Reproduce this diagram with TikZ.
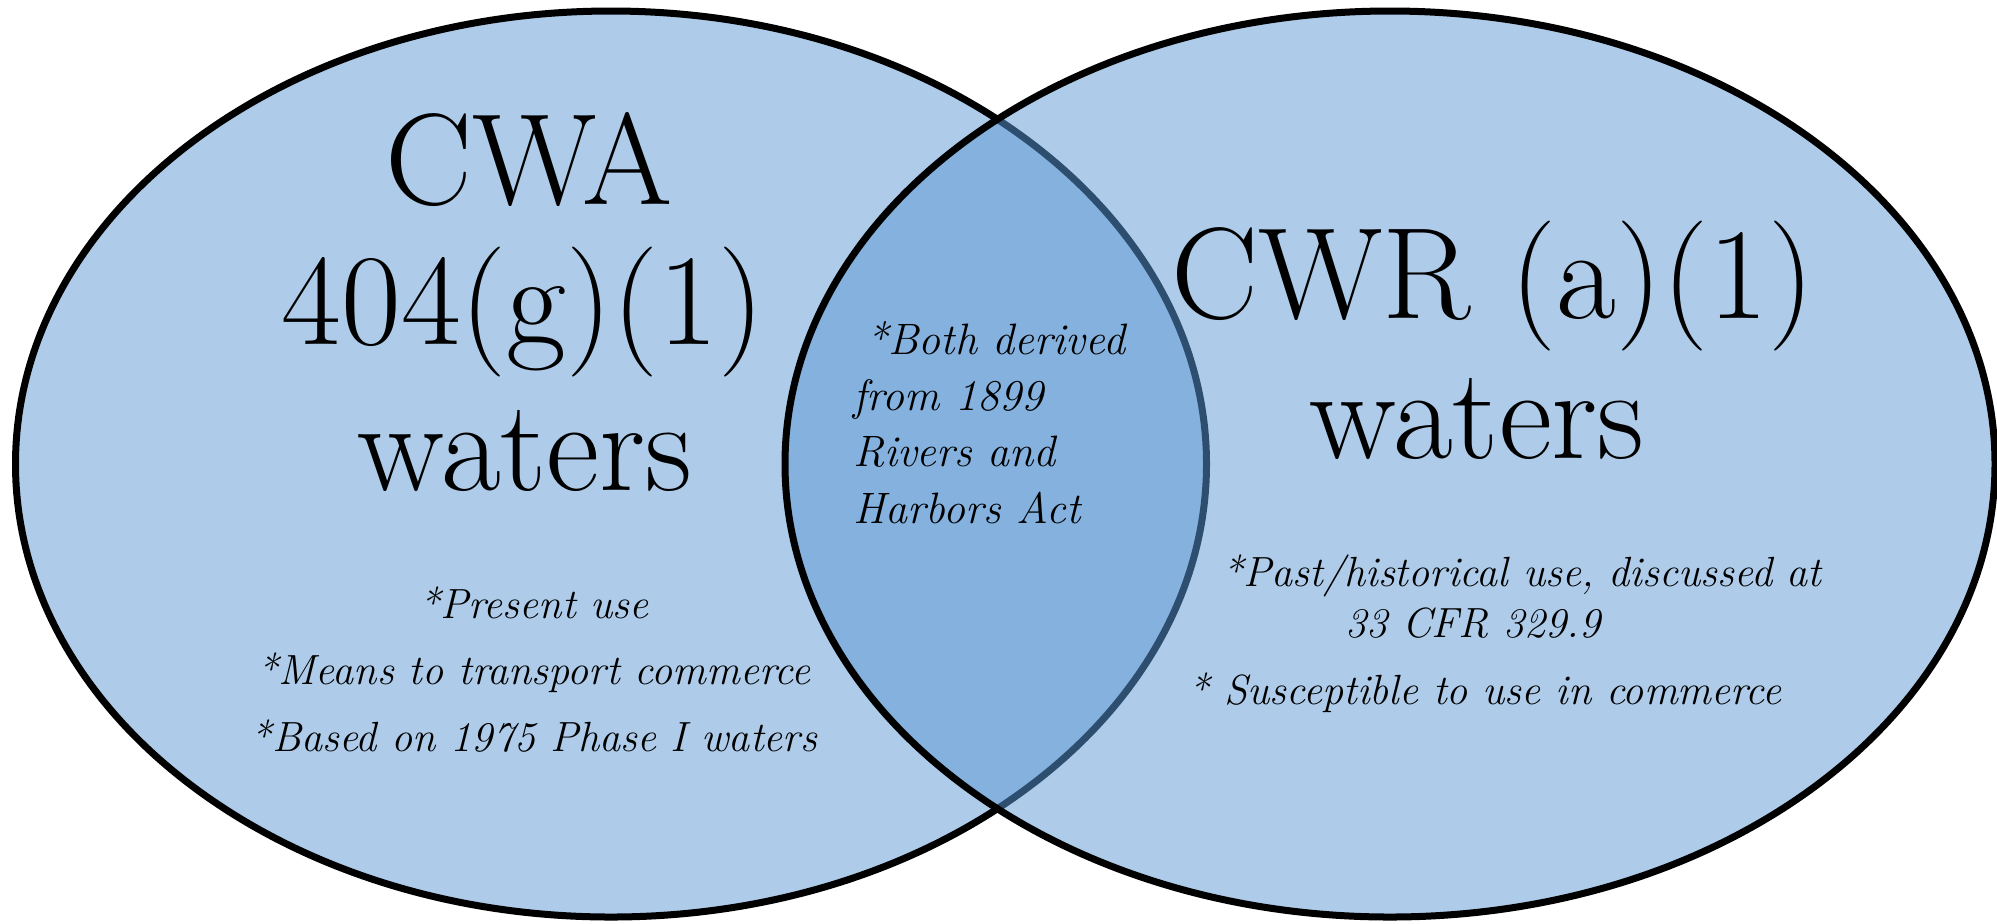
\documentclass[tikz,border=0pt]{standalone}
\definecolor{vennfill}{RGB}{174,204,233}
\definecolor{lensfill}{RGB}{132,177,222}
\definecolor{lensline}{RGB}{46,78,112}
\begin{document}
\begin{tikzpicture}[x=0.01cm,y=-0.01cm,
  title/.style={anchor=base, font=\fontsize{37}{42}\selectfont, inner sep=0pt},
  note/.style={anchor=base, font=\fontsize{12}{14}\selectfont\itshape, inner sep=0pt},
  lenstext/.style={anchor=base west, font=\fontsize{12.5}{15}\selectfont\itshape, inner sep=0pt},
  outline/.style={line width=0.07cm}]
\useasboundingbox (0,0) rectangle (1997,923);
% left set
\path[fill=vennfill, draw=black, outline] (611,464) ellipse [x radius=595.5, y radius=453];
% right set
\path[fill=vennfill] (1390,464) ellipse [x radius=605, y radius=453];
% overlap
\begin{scope}
  \clip (1390,464) ellipse [x radius=605, y radius=453];
  \path[fill=lensfill] (611,464) ellipse [x radius=595.5, y radius=453];
  \path[draw=lensline, outline] (611,464) ellipse [x radius=595.5, y radius=453];
\end{scope}
\path[draw=black, outline] (1390,464) ellipse [x radius=605, y radius=453];

% titles
\node[title] (cwa) at (529,204) {CWA};
\node[title] (g1) at (523,344) {404(g)(1)};
\node[title] (lw) at (525,490) {waters};
\node[title] (cwr) at (1493,318) {CWR (a)(1)};
\node[title] (rw) at (1477,458) {waters};

% left notes
\node[note] (l1) at (534,618) {*Present use};
\node[note] (l2) at (534,684) {*Means to transport commerce};
\node[note] (l3) at (534,751) {*Based on 1975 Phase I waters};

% right notes
\node[note] (r1) at (1522,586) {*Past/historical use, discussed at};
\node[note] (r2) at (1473,637) {33 CFR 329.9};
\node[note] (r3) at (1485,704) {* Susceptible to use in commerce};

% overlap notes
\node[lenstext] (m1) at (866,354) {*Both derived};
\node[lenstext] (m2) at (853,410) {from 1899};
\node[lenstext] (m3) at (853,466) {Rivers and};
\node[lenstext] (m4) at (853,523) {Harbors Act};
\end{tikzpicture}
\end{document}
